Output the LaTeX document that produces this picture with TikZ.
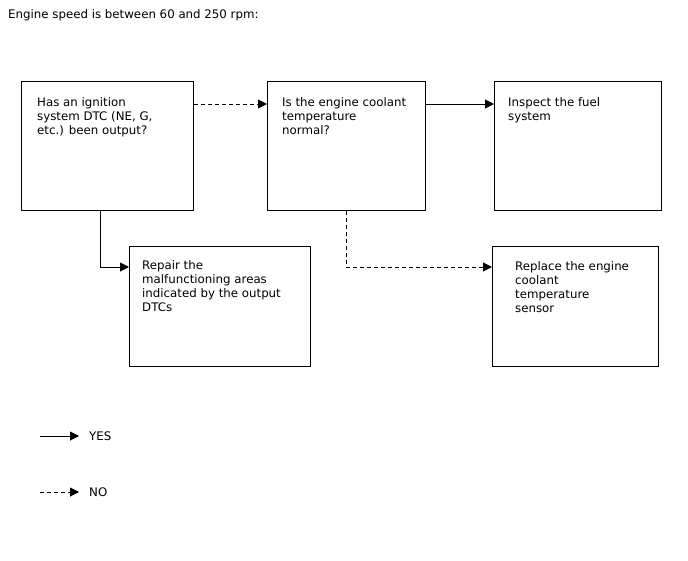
\documentclass[tikz,border=0pt]{standalone}
\usepackage{fontspec}
\setmainfont{DejaVu Sans}
\usetikzlibrary{arrows.meta}
\begin{document}
\begin{tikzpicture}[x=1pt,y=-1pt,
  box/.style={draw,line width=1.4pt,inner sep=0pt,anchor=north west},
  txt/.style={inner sep=0pt,anchor=north west,align=left,font=\fontsize{11.8}{14}\selectfont},
  yesline/.style={line width=1pt,-{Triangle[length=9pt,width=9pt]}},
  noline/.style={line width=1pt,dash pattern=on 4pt off 3pt,-{Triangle[length=9pt,width=9pt]}}]
\useasboundingbox (0,0) rectangle (688,560);
\node[txt] (title) at (8,9.5) {Engine speed is between 60 and 250 rpm:};
\node[box,minimum width=172pt,minimum height=129pt] (A) at (21,81) {};
\node[box,minimum width=158pt,minimum height=129pt] (B) at (267,81) {};
\node[box,minimum width=167pt,minimum height=129pt] (C) at (494,81) {};
\node[box,minimum width=181pt,minimum height=120pt] (D) at (129,246) {};
\node[box,minimum width=166pt,minimum height=120pt] (E) at (492,246) {};
\node[txt] (At) at (37,97) {Has an ignition\\system DTC (NE, G,\\etc.) been output?};
\node[txt] (Bt) at (282,97) {Is the engine coolant\\temperature\\normal?};
\node[txt] (Ct) at (508,97) {Inspect the fuel\\system};
\node[txt] (Dt) at (142,260) {Repair the\\malfunctioning areas\\indicated by the output\\DTCs};
\node[txt] (Et) at (515,261) {Replace the engine\\coolant\\temperature\\sensor};
\draw[noline] (A.east |- 0,104) -- (B.west |- 0,104);
\draw[yesline] (B.east |- 0,104) -- (C.west |- 0,104);
\draw[yesline] (A.south -| 100,0) |- (D.west |- 0,267);
\draw[noline] (B.south -| 346,0) |- (E.west |- 0,267);
\coordinate (y1) at (40,436);
\coordinate (y2) at (79,436);
\coordinate (n1) at (40,492);
\coordinate (n2) at (79,492);
\draw[yesline] (y1) -- (y2);
\draw[noline] (n1) -- (n2);
\node[txt,anchor=west] (yes) at (89,436) {YES};
\node[txt,anchor=west] (no) at (89,492) {NO};
\end{tikzpicture}
\end{document}
